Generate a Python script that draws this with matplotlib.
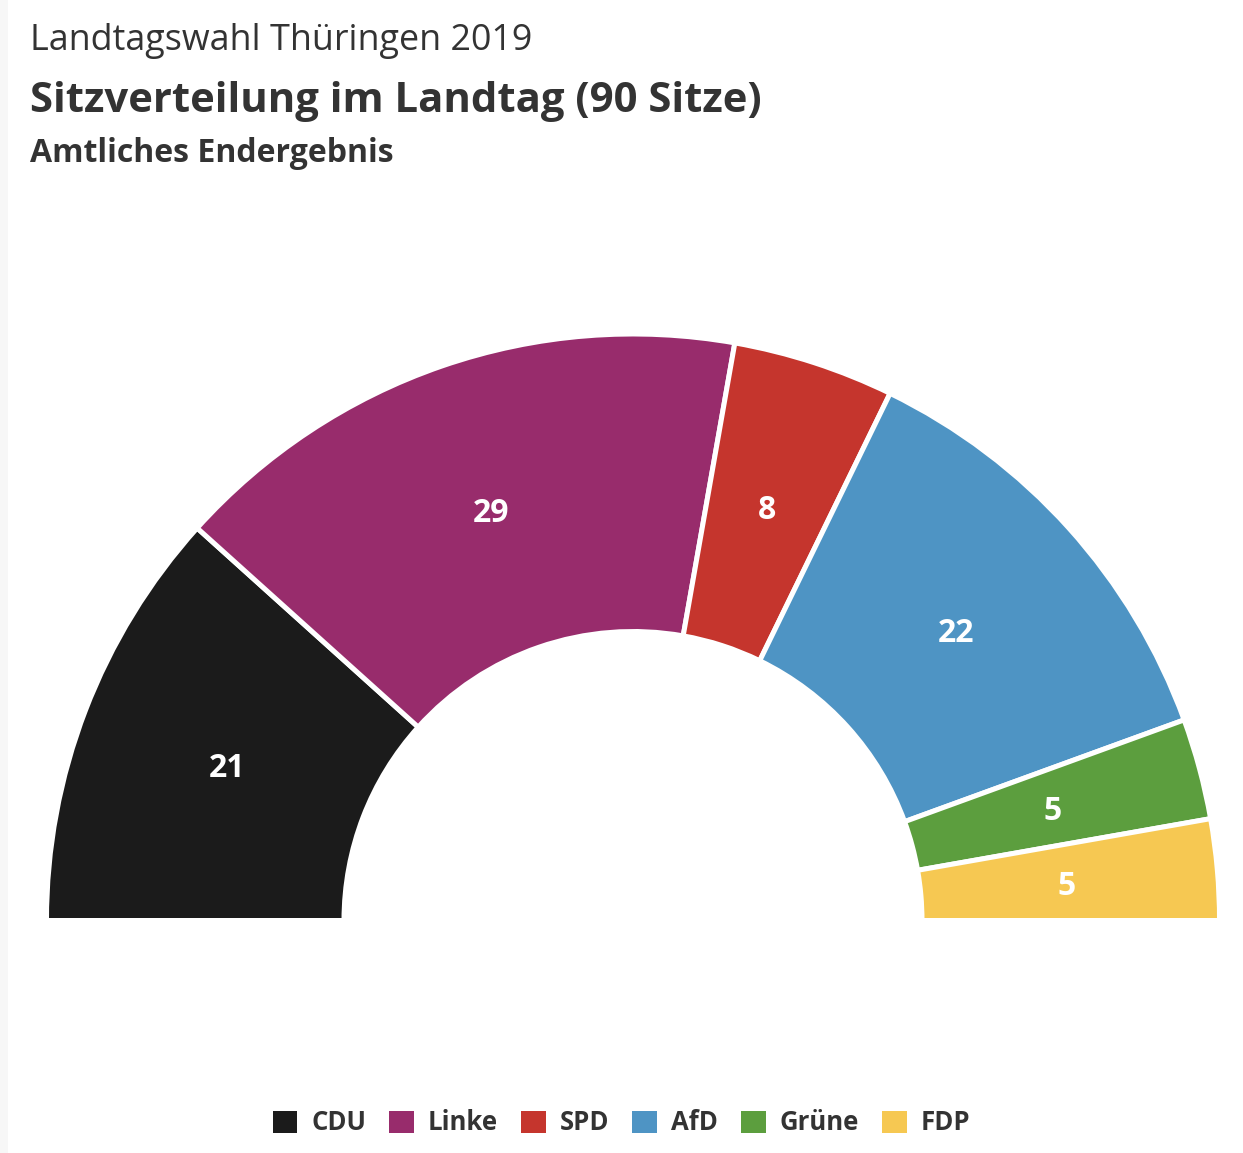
import matplotlib
matplotlib.use("Agg")
import matplotlib.pyplot as plt
from matplotlib.patches import Patch, Rectangle

plt.rcParams['font.family'] = ['Open Sans', 'DejaVu Sans']

parties = ["CDU", "Linke", "SPD", "AfD", "Grüne", "FDP"]
seats = [21, 29, 8, 22, 5, 5]
colors = ["#1b1b1b", "#982c6c", "#c5352d", "#4e94c4", "#5c9e3e", "#f6c852"]
total_seats = 90

W, H = 1243, 1153
fig = plt.figure(figsize=(W / 100, H / 100), dpi=100)
fig.patch.set_facecolor("white")
fig.patches.append(Rectangle((0, 0), 8 / W, 1, transform=fig.transFigure,
                             facecolor="#f7f7f7", edgecolor="none"))

ax = fig.add_axes([0, 0, 1, 1])
ax.set_xlim(0, W)
ax.set_ylim(0, H)
ax.set_aspect("equal")
ax.axis("off")

cx, cy = 633, H - 920.5
R_out, R_in = 586.5, 289

vals = seats + [sum(seats)]
cols = colors + ["none"]
labels = [str(s) for s in seats] + [""]
wedges, texts = ax.pie(vals, colors=cols, startangle=180, counterclock=False,
                       center=(cx, cy), radius=R_out, labels=labels,
                       labeldistance=(R_out + R_in) / 2 / R_out - 0.005,
                       wedgeprops=dict(width=R_out - R_in, edgecolor="white", linewidth=3.6),
                       textprops=dict(color="white", fontsize=23, fontweight="bold"))
wedges[-1].set_visible(False)
for t in texts:
    t.set_ha("center")
    t.set_va("center_baseline")
ax.set_xlim(0, W)
ax.set_ylim(0, H)

fig.text(30 / W, 1 - 41 / H, "Landtagswahl Thüringen 2019", fontsize=25.8,
         color="#333333", ha="left", va="center")
fig.text(30 / W, 1 - 101 / H, "Sitzverteilung im Landtag (90 Sitze)", fontsize=30.2,
         fontweight="bold", color="#333333", ha="left", va="center")
fig.text(30 / W, 1 - 154 / H, "Amtliches Endergebnis", fontsize=23,
         fontweight="bold", color="#333333", ha="left", va="center")

handles = [Patch(facecolor=c, edgecolor="none") for c in colors]
leg = fig.legend(handles, parties, loc="center", bbox_to_anchor=(0.5, 1 - 1123 / H),
                 ncol=6, frameon=False, fontsize=18.5, handlelength=0.96, handleheight=0.96,
                 handletextpad=0.54, columnspacing=0.9)
for t in leg.get_texts():
    t.set_fontweight("bold")
    t.set_color("#333333")

fig.savefig("out.png", dpi=100, facecolor="white")
